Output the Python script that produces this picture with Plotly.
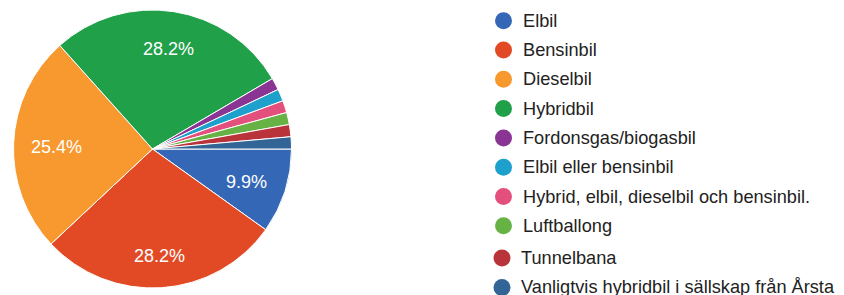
import math
import plotly.graph_objects as go

labels = [
    "Elbil",
    "Bensinbil",
    "Dieselbil",
    "Hybridbil",
    "Fordonsgas/biogasbil",
    "Elbil eller bensinbil",
    "Hybrid, elbil, dieselbil och bensinbil.",
    "Luftballong",
    "Tunnelbana",
    "Vanligtvis hybridbil i sällskap från Årsta",
]
counts = [7, 20, 18, 20, 1, 1, 1, 1, 1, 1]
colors = [
    "#3468B6", "#E24A26", "#F7992F", "#21A04A", "#8A3593",
    "#1DA0CB", "#E4507D", "#67B245", "#B8343A", "#326496",
]

W, H = 844, 295
FONT = "Liberation Sans, Arial, Helvetica, sans-serif"

# pie geometry (pixels)
CX, CY, R = 152.5, 149.0, 139.0
dom_x = [(CX - R) / W, (CX + R) / W]
dom_y = [(H - CY - R) / H, (H - CY + R) / H]

fig = go.Figure()
fig.add_trace(go.Pie(
    labels=labels,
    values=counts,
    sort=False,
    direction="clockwise",
    rotation=90,
    textinfo="none",
    marker=dict(colors=colors, line=dict(color="white", width=1)),
    showlegend=False,
    domain=dict(x=dom_x, y=dom_y),
    hoverinfo="label+percent",
))

annotations = []
# percentage labels for the larger slices, placed from slice angles
total = float(sum(counts))
cum = 0.0
for c in counts:
    frac = c / total
    mid = (cum + frac / 2.0) * 2 * math.pi  # clockwise from 3 o'clock
    cum += frac
    if frac < 0.05:
        continue
    rf = 0.69 + 0.06 * abs(math.sin(mid))
    px = CX + rf * R * math.cos(mid)
    py = CY + rf * R * math.sin(mid) + 2.5
    annotations.append(dict(
        x=px / W, y=1 - py / H, xref="paper", yref="paper",
        xanchor="center", yanchor="middle",
        text="%.1f%%" % (100.0 * frac), showarrow=False,
        font=dict(family=FONT, size=18, color="white"),
    ))

# legend drawn as circle shapes + text annotations (clipped at bottom like the reference)
shapes = []
for i, (lab, col) in enumerate(zip(labels, colors)):
    yc = 20.7 + 29.3 * i + (3.0 if i >= 8 else 0.0)
    xc = 503.5 - (1.5 if i >= 8 else 0.0)
    xt = 520.5 - (2.0 if i >= 8 else 0.0)
    yp = 1 - yc / H
    shapes.append(dict(
        type="circle", xref="paper", yref="paper",
        xsizemode="pixel", ysizemode="pixel",
        xanchor=xc / W, yanchor=yp,
        x0=-8.5, x1=8.5, y0=-8.5, y1=8.5,
        fillcolor=col, line=dict(width=0),
    ))
    annotations.append(dict(
        x=xt / W, y=yp, xref="paper", yref="paper",
        xanchor="left", yanchor="middle",
        text=lab, showarrow=False,
        font=dict(family=FONT, size=18.2, color="#222222"),
    ))

fig.update_layout(
    width=W, height=H,
    margin=dict(l=0, r=0, t=0, b=0),
    paper_bgcolor="white",
    plot_bgcolor="white",
    shapes=shapes,
    annotations=annotations,
    showlegend=False,
)

fig.write_html(
    "out.html",
    config={"displayModeBar": False},
    post_script="document.body.style.margin='0';",
)
